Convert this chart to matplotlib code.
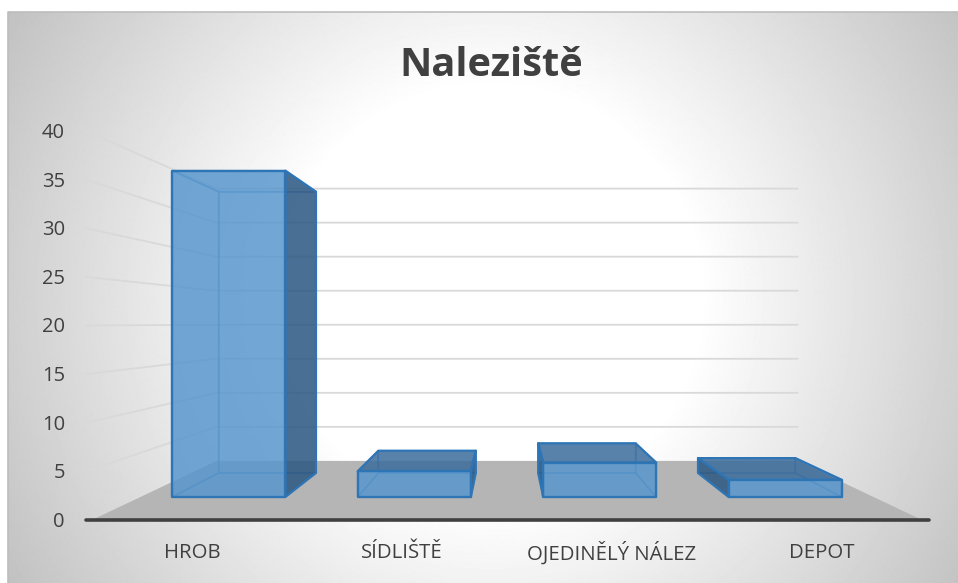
import numpy as np
import matplotlib
matplotlib.use("Agg")
import matplotlib.pyplot as plt
from matplotlib.patches import Polygon

categories = ["HROB", "SÍDLIŠTĚ", "OJEDINĚLÝ NÁLEZ", "DEPOT"]
values = [38, 3, 4, 2]
y_ticks = [0, 5, 10, 15, 20, 25, 30, 35, 40]
title = "Naleziště"

W, H = 958, 583
plt.rcParams['font.family'] = ['Open Sans', 'DejaVu Sans']
TXT = '#404040'

# perspective model of the 3D chart
CX, HORIZON, FLOOR_H, UNIT = 507.0, 323.0, 197.0, 9.725
S_BACK, S_F, S_B = 0.70, 0.883, 0.761
STEP, BAR_W = 210.0, 128.0


def P(X, s, v):
    return (CX + s * X, HORIZON + s * (FLOOR_H - v * UNIT))


fig = plt.figure(figsize=(W / 100, H / 100), dpi=100)
ax = fig.add_axes([0, 0, 1, 1])
ax.set_xlim(0, W)
ax.set_ylim(H, 0)
ax.axis('off')

# background
L, T = 8, 12
xx, yy = np.meshgrid(np.arange(L, W + 1), np.arange(T, H + 1))
d = np.hypot(xx - 490, yy - 297)
g = np.clip(255 - (d - 210) / (551 - 210) * 60, 190, 255) / 255
ax.imshow(g, extent=(L, W, H, T), cmap='gray', vmin=0, vmax=1, aspect='auto',
          zorder=0, interpolation='bilinear')
ax.set_xlim(0, W)
ax.set_ylim(H, 0)
ax.plot([L, L, W], [H, T, T], color='#BDBDBD', lw=1.2, zorder=1)

# floor
ax.add_patch(Polygon([P(-415, 1, 0), P(415, 1, 0), P(415, S_BACK, 0), P(-415, S_BACK, 0)],
                     fc='#B5B5B5', ec='none', zorder=1))

# gridlines
for v in y_ticks[1:]:
    a, b, c = P(-421, 1, v), P(-415, S_BACK, v), P(415, S_BACK, v)
    ax.plot([a[0], b[0], c[0]], [a[1], b[1], c[1]], color='#D9D9D9', lw=1.3, zorder=2,
            solid_joinstyle='miter')

# bars
BLUE, SIDE, TOP, EDGE = '#5796CE', '#2B557F', '#3A6A9A', '#2E75B6'
for i, (name, val) in enumerate(zip(categories, values)):
    c = (i - 1.5) * STEP
    x0, x1 = c - BAR_W / 2, c + BAR_W / 2
    face = lambda pts: [P(*p) for p in pts]
    back = face([(x0, S_B, 0), (x1, S_B, 0), (x1, S_B, val), (x0, S_B, val)])
    bottom = face([(x0, S_F, 0), (x1, S_F, 0), (x1, S_B, 0), (x0, S_B, 0)])
    top = face([(x0, S_F, val), (x1, S_F, val), (x1, S_B, val), (x0, S_B, val)])
    left = face([(x0, S_F, 0), (x0, S_B, 0), (x0, S_B, val), (x0, S_F, val)])
    right = face([(x1, S_F, 0), (x1, S_B, 0), (x1, S_B, val), (x1, S_F, val)])
    front = face([(x0, S_F, 0), (x1, S_F, 0), (x1, S_F, val), (x0, S_F, val)])

    top_vis = FLOOR_H - val * UNIT > 0
    side_vis, side_hid = (right, left) if x1 < 0 else (left, right)

    hidden = [back, bottom, side_hid] + ([] if top_vis else [top])
    for poly in hidden:
        ax.add_patch(Polygon(poly, fc=BLUE, alpha=0.25, ec='none', zorder=3))
        ax.add_patch(Polygon(poly, fc='none', ec=EDGE, alpha=0.35, lw=1.3, zorder=3.1))
    ax.add_patch(Polygon(side_vis, fc=SIDE, alpha=0.82, ec='none', zorder=4))
    ax.add_patch(Polygon(side_vis, fc='none', ec=EDGE, lw=1.6, zorder=5, joinstyle='round'))
    if top_vis:
        ax.add_patch(Polygon(top, fc=TOP, alpha=0.8, ec='none', zorder=4))
        ax.add_patch(Polygon(top, fc='none', ec=EDGE, lw=1.6, zorder=5, joinstyle='round'))
    ax.add_patch(Polygon(front, fc=BLUE, alpha=0.78, ec='none', zorder=5))
    ax.add_patch(Polygon(front, fc='none', ec=EDGE, lw=1.7, zorder=6, joinstyle='round'))
    ax.text(CX + c, 553, name, ha='center', va='center', fontsize=14.7, color=TXT, zorder=7)

# axis line
ax.plot([P(-421, 1, 0)[0], P(422, 1, 0)[0]], [520, 520], color=TXT, lw=2.6,
        solid_capstyle='round', zorder=7)

for v in y_ticks:
    ax.text(65, P(0, 1, v)[1] + 2, str(v), ha='right', va='center', fontsize=14.5, color=TXT, zorder=7)

ax.text(491, 66, title, ha='center', va='center', fontsize=28.6, fontweight='bold', color=TXT, zorder=7)

fig.savefig('out.png', dpi=100, facecolor='white')
